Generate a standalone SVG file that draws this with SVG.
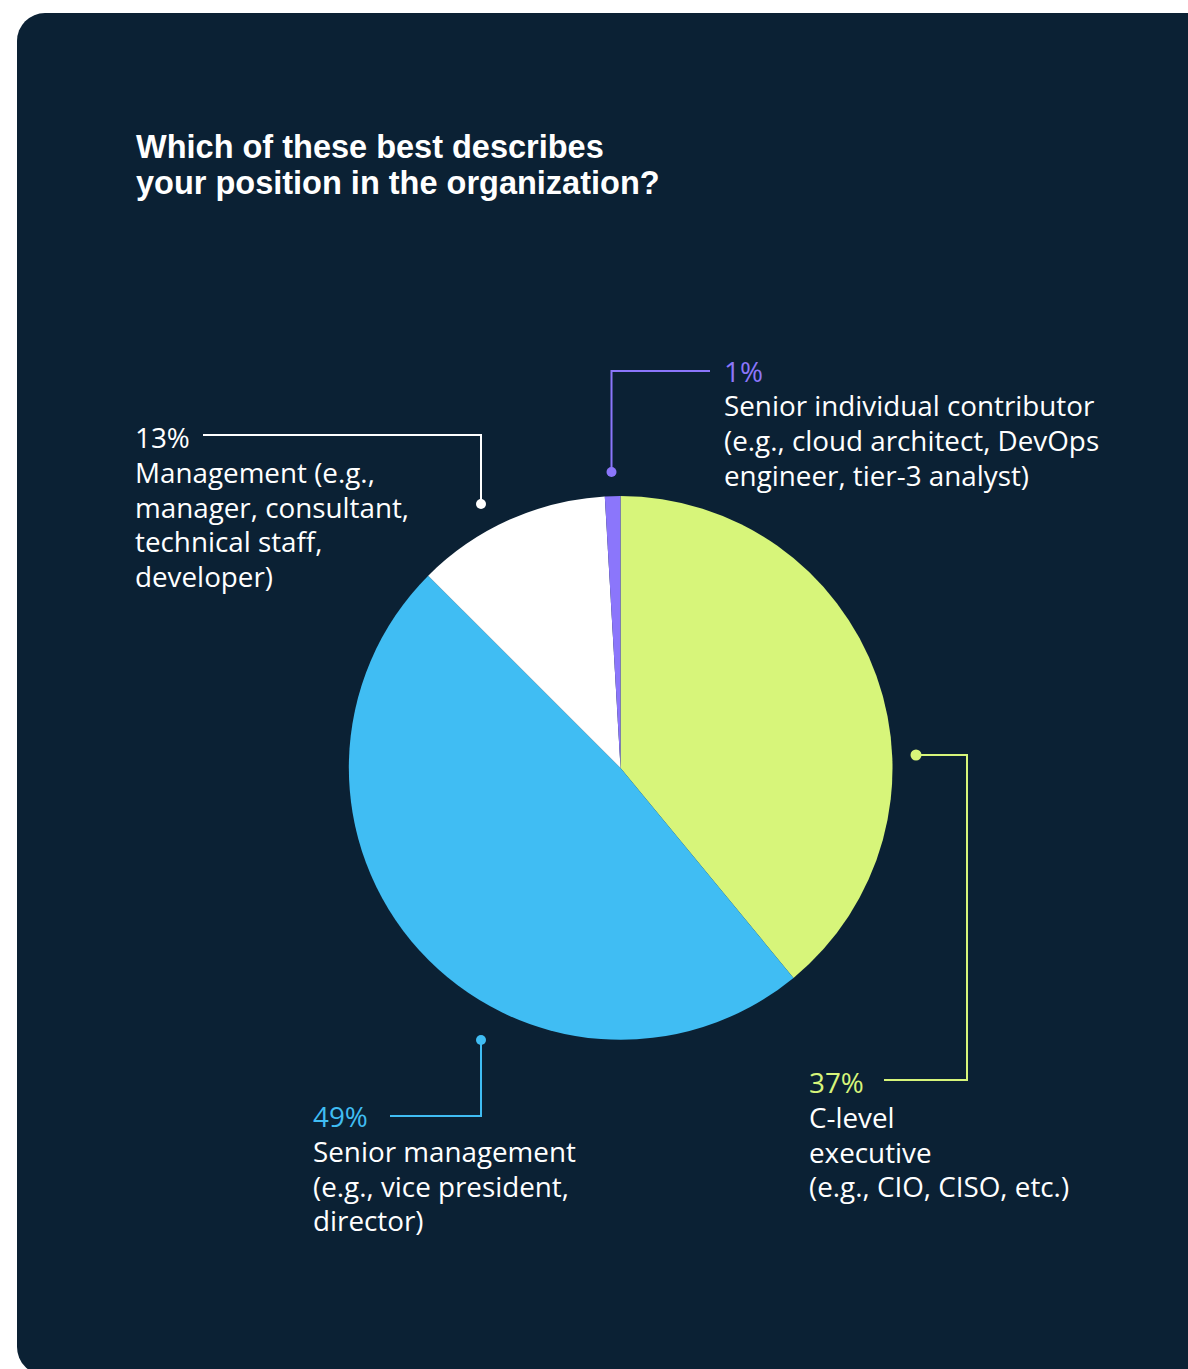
<svg xmlns="http://www.w3.org/2000/svg" width="1188" height="1369" viewBox="0 0 1188 1369">
<style>
.title{font-family:"Liberation Sans",Arial,sans-serif;font-weight:700;font-size:32.5px;fill:#ffffff}
.lbl{font-family:"Open Sans","Liberation Sans",sans-serif;font-size:27.8px;fill:#ffffff}
.conn{fill:none;stroke-width:2}
</style>
<rect x="0" y="0" width="1188" height="1369" fill="#ffffff"/>
<rect id="card" x="17" y="13" width="1230" height="1362" rx="28" fill="#0b2134"/>
<g id="title">
<text class="title" x="136" y="158">Which of these best describes</text>
<text class="title" x="136" y="194">your position in the organization?</text>
</g>
<g id="pie">
<path id="slice-clevel" d="M620.5,768 L620.5,496 A272,272 0 0 1 793.5,977.9 Z" fill="#d7f57a"/>
<path id="slice-senior-mgmt" d="M620.5,768 L793.5,977.9 A272,272 0 0 1 428.2,575.7 Z" fill="#40bdf3"/>
<path id="slice-mgmt" d="M620.5,768 L428.2,575.7 A272,272 0 0 1 604.8,496.5 Z" fill="#ffffff"/>
<path id="slice-sic" d="M620.5,768 L604.8,496.5 A272,272 0 0 1 620.5,496 Z" fill="#8b76fb"/>
</g>
<g id="connectors">
<polyline class="conn" points="203,435 481,435 481,504" stroke="#ffffff"/>
<circle cx="481" cy="504" r="5" fill="#ffffff"/>
<polyline class="conn" points="710,371 611.5,371 611.5,472" stroke="#8b76fb"/>
<circle cx="611.5" cy="472" r="5" fill="#8b76fb"/>
<polyline class="conn" points="916,755 967,755 967,1080 884,1080" stroke="#d7f57a"/>
<circle cx="916" cy="755" r="5.5" fill="#d7f57a"/>
<polyline class="conn" points="481,1040 481,1116 390,1116" stroke="#40bdf3"/>
<circle cx="481" cy="1040" r="5" fill="#40bdf3"/>
</g>
<g id="label-mgmt">
<text class="lbl" x="135" y="448">13%</text>
<text class="lbl" x="135" y="483">Management (e.g.,</text>
<text class="lbl" x="135" y="518">manager, consultant,</text>
<text class="lbl" x="135" y="552">technical staff,</text>
<text class="lbl" x="135" y="587">developer)</text>
</g>
<g id="label-sic">
<text class="lbl" x="724" y="382" style="fill:#8b76fb">1%</text>
<text class="lbl" x="724" y="416">Senior individual contributor</text>
<text class="lbl" x="724" y="451">(e.g., cloud architect, DevOps</text>
<text class="lbl" x="724" y="486">engineer, tier-3 analyst)</text>
</g>
<g id="label-senior-mgmt">
<text class="lbl" x="313" y="1127" style="fill:#40bdf3">49%</text>
<text class="lbl" x="313" y="1162">Senior management</text>
<text class="lbl" x="313" y="1197">(e.g., vice president,</text>
<text class="lbl" x="313" y="1231">director)</text>
</g>
<g id="label-clevel">
<text class="lbl" x="809" y="1093" style="fill:#d7f57a">37%</text>
<text class="lbl" x="809" y="1128">C-level</text>
<text class="lbl" x="809" y="1163">executive</text>
<text class="lbl" x="809" y="1197">(e.g., CIO, CISO, etc.)</text>
</g>
</svg>
